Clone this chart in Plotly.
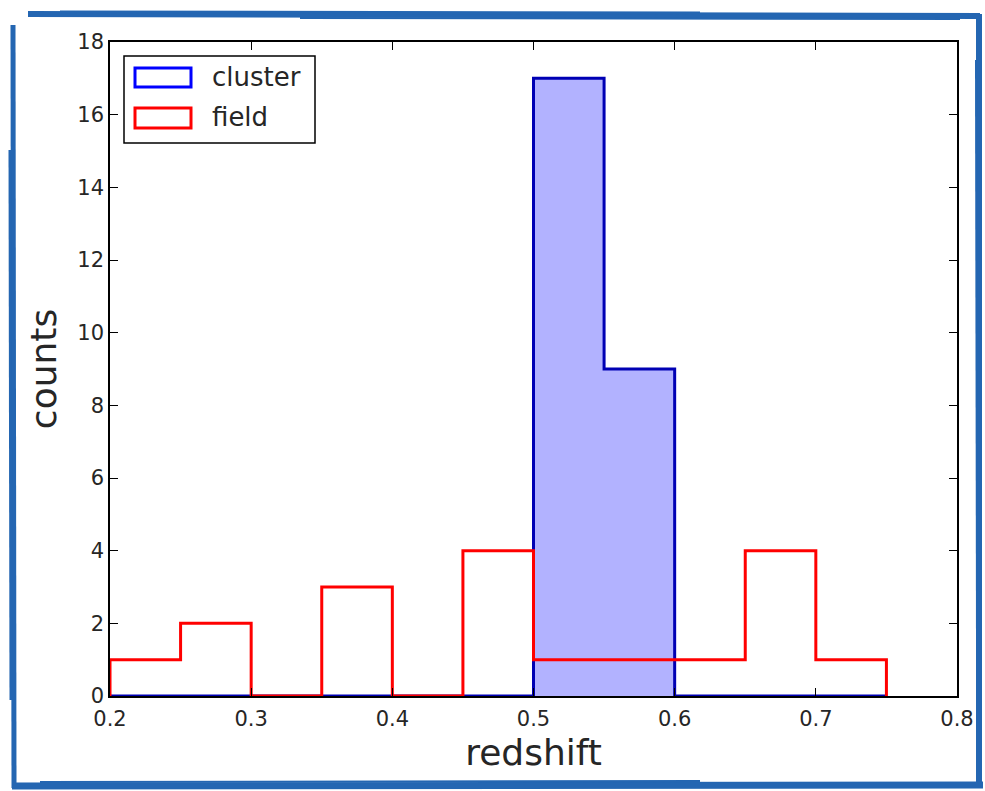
import plotly.graph_objects as go

# ---- data ----
bin_edges = [0.2, 0.25, 0.3, 0.35, 0.4, 0.45, 0.5, 0.55, 0.6, 0.65, 0.7, 0.75]
cluster_counts = [0, 0, 0, 0, 0, 0, 17, 9, 0, 0, 0]
field_counts = [1, 2, 0, 3, 0, 4, 1, 1, 1, 4, 1]
x_ticks = [0.2, 0.3, 0.4, 0.5, 0.6, 0.7, 0.8]
y_ticks = [0, 2, 4, 6, 8, 10, 12, 14, 16, 18]
legend_labels = ["cluster", "field"]

W, H = 985, 791
L, R, T, B = 110, 28, 42, 95
PW, PH = W - L - R, H - T - B

def px(x):
    return (x - L) / PW

def py(y):
    return (H - B - y) / PH

def step_xy(edges, counts):
    xs = [edges[0]] + list(edges)
    ys = [0] + list(counts) + [0]
    return xs, ys

fig = go.Figure()

cx, cy = step_xy(bin_edges, cluster_counts)
fig.add_trace(go.Scatter(x=cx, y=cy, mode="lines", line=dict(shape="hv", color="#0000b4", width=3),
                         fill="tozeroy", fillcolor="#b2b2ff", showlegend=False, hoverinfo="skip"))
fx, fy = step_xy(bin_edges, field_counts)
fig.add_trace(go.Scatter(x=fx, y=fy, mode="lines", line=dict(shape="hv", color="#ff0000", width=3),
                         showlegend=False, hoverinfo="skip"))

shapes = []
# legend box
shapes.append(dict(type="rect", xref="paper", yref="paper", x0=px(124), x1=px(315), y0=py(143), y1=py(56),
                   line=dict(color="black", width=1.5), fillcolor="white", layer="above"))
shapes.append(dict(type="rect", xref="paper", yref="paper", x0=px(135), x1=px(191), y0=py(87), y1=py(68),
                   line=dict(color="#0000ff", width=3), layer="above"))
shapes.append(dict(type="rect", xref="paper", yref="paper", x0=px(135), x1=px(191), y0=py(128), y1=py(108),
                   line=dict(color="#ff0000", width=3), layer="above"))

# decorative rough frame
fc = "#2466b2"
def seg(x0, y0, x1, y1, w):
    shapes.append(dict(type="line", xref="paper", yref="paper", x0=px(x0), y0=py(y0), x1=px(x1), y1=py(y1),
                       line=dict(color=fc, width=w), layer="above"))
# top
seg(28, 14, 980, 16, 6)
seg(60, 12, 700, 13, 3)
seg(300, 18, 960, 19, 2)
# bottom
seg(12, 786, 983, 785, 7)
seg(40, 782, 700, 781, 2)
# left
seg(13, 25, 14, 788, 5)
seg(10, 150, 11, 700, 3)
# right
seg(979, 14, 979, 788, 6)
seg(976, 60, 977, 640, 2)

annotations = [
    dict(x=px(210), y=py(77), xref="paper", yref="paper", text=legend_labels[0], showarrow=False,
         xanchor="left", yanchor="middle", font=dict(size=26, color="#262626", family="DejaVu Sans")),
    dict(x=px(210), y=py(117), xref="paper", yref="paper", text=legend_labels[1], showarrow=False,
         xanchor="left", yanchor="middle", font=dict(size=26, color="#262626", family="DejaVu Sans")),
]

fig.update_layout(
    width=W, height=H,
    margin=dict(l=L, r=R, t=T, b=B),
    paper_bgcolor="white", plot_bgcolor="white",
    font=dict(family="DejaVu Sans", color="#262626", size=21),
    shapes=shapes, annotations=annotations,
    showlegend=False,
)
fig.update_xaxes(range=[0.2, 0.8], tickvals=x_ticks, ticktext=[f"{v:.1f}" for v in x_ticks],
                 ticks="inside", ticklen=8, tickcolor="black", tickwidth=1, ticklabelstandoff=3,
                 showline=True, linecolor="black", linewidth=1.5, mirror="ticks",
                 showgrid=False, zeroline=False,
                 title=dict(text="redshift", font=dict(size=36, color="#262626"), standoff=10))
fig.update_yaxes(range=[0, 18], tickvals=y_ticks,
                 ticks="inside", ticklen=8, tickcolor="black", tickwidth=1,
                 showline=True, linecolor="black", linewidth=1.5, mirror="ticks",
                 showgrid=False, zeroline=False,
                 title=dict(text="counts", font=dict(size=36, color="#262626"), standoff=10))

fig.write_html("out.html")
